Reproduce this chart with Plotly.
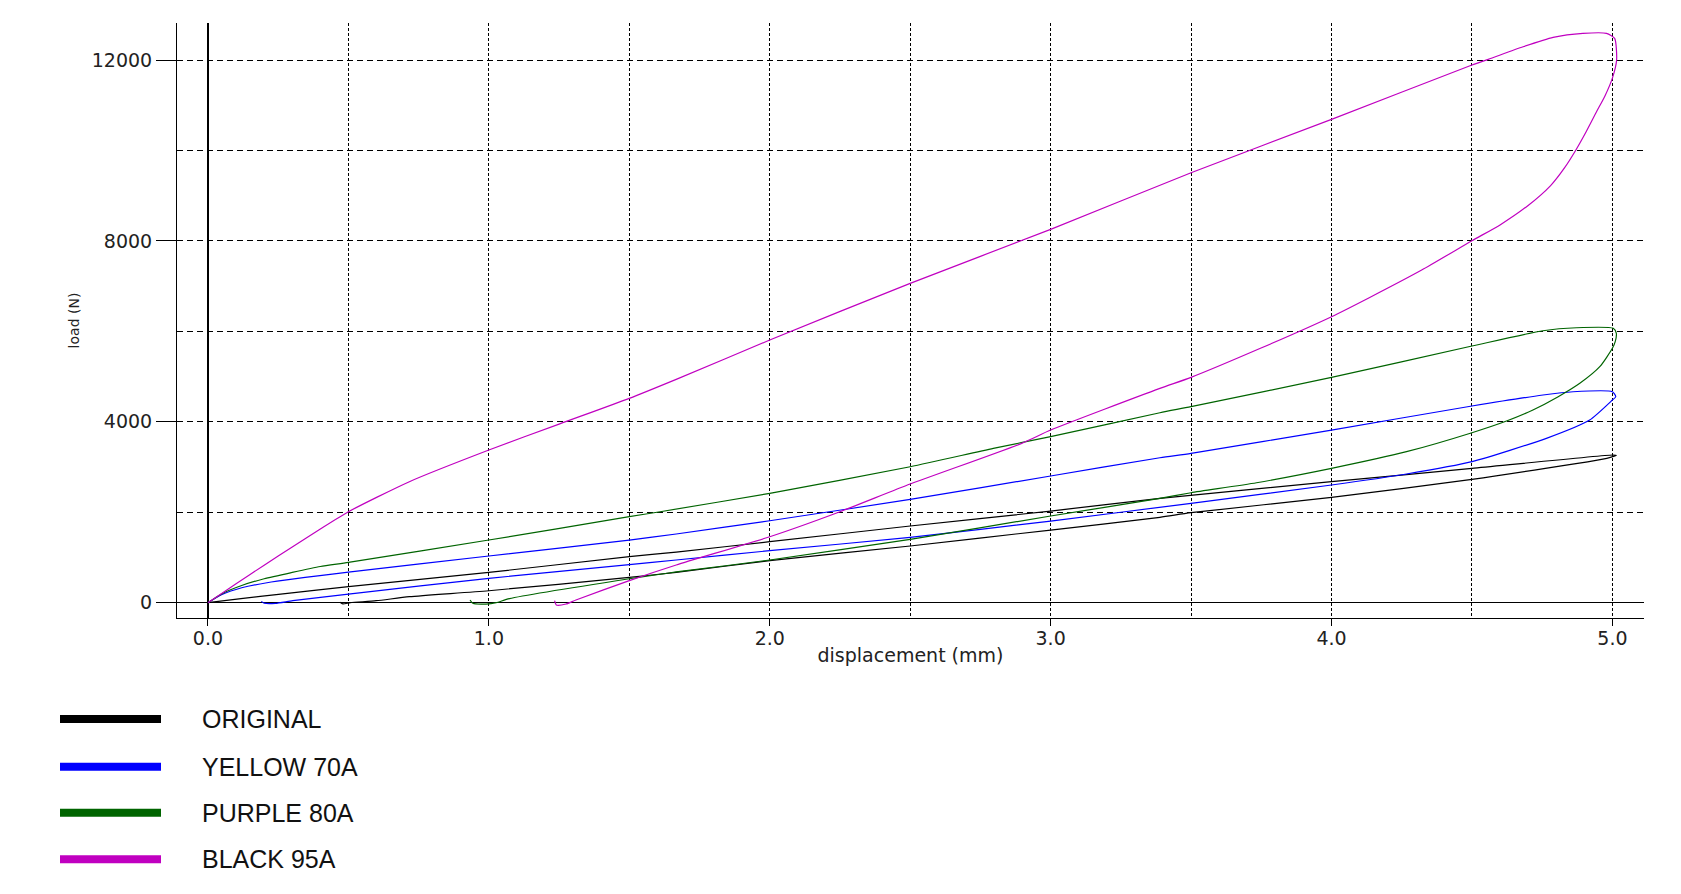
import plotly.graph_objects as go

# ---------------- data ----------------
series_names = ["ORIGINAL", "YELLOW 70A", "PURPLE 80A", "BLACK 95A"]
series_colors = ["#000000", "#0000ff", "#006400", "#c000c0"]

# ORIGINAL: loading branch then unloading branch (displacement mm, load N)
original_x = [0, 0.125, 0.243, 0.5, 1.0, 1.5, 1.667, 2.0, 2.5, 3.0, 3.389, 4.0, 4.5, 5.0, 5.014,
              4.98, 4.5, 4.0, 3.5, 3.389, 3.0, 2.5, 2.0, 1.667, 1.5, 1.0, 0.717, 0.599, 0.507, 0.48, 0.47]
original_y = [0, 97, 180, 354, 670, 1020, 1120, 1349, 1696, 2027, 2308, 2676, 2971, 3266, 3260,
              3193, 2728, 2330, 1990, 1888, 1607, 1254, 929, 672, 560, 265, 133, 44, 0, -25, 10]

# YELLOW 70A
yellow_x = [0, 0.05, 0.12, 0.21, 0.5, 1.0, 1.5, 1.667, 2.0, 2.5, 3.0, 3.389, 3.5, 4.0, 4.5, 4.753, 4.86, 5.0,
            5.012,
            5.0, 4.919, 4.765, 4.5, 4.267, 4.0, 3.5, 3.0, 2.5, 2.0, 1.667, 1.5, 1.0, 0.5, 0.302, 0.24, 0.2, 0.19]
yellow_y = [0, 180, 330, 442, 675, 1033, 1386, 1519, 1813, 2286, 2801, 3206, 3303, 3818, 4349, 4592, 4665, 4665,
            4555,
            4482, 4040, 3635, 3118, 2846, 2602, 2198, 1806, 1446, 1150, 944, 840, 539, 192, 44, -15, -10, 30]

# PURPLE 80A
purple_x = [0, 0.05, 0.12, 0.2, 0.3, 0.4, 0.5, 1.0, 1.5, 1.61, 2.0, 2.5, 2.796, 3.0, 3.389, 3.5, 4.0, 4.5,
            4.753, 4.872, 5.003, 5.014, 5.01,
            5.0, 4.955, 4.884, 4.807, 4.717, 4.623, 4.5, 4.267, 4.0, 3.733, 3.5, 3.389, 3.0, 2.5, 2.0, 1.667,
            1.61, 1.5, 1.073, 1.026, 0.99, 0.943, 0.933]
purple_y = [0, 200, 380, 530, 670, 800, 890, 1386, 1902, 2012, 2418, 3007, 3413, 3671, 4201, 4334, 4983, 5676,
            6014, 6080, 6067, 5956, 5771,
            5625, 5218, 4851, 4555, 4261, 4017, 3759, 3339, 2971, 2653, 2432, 2308, 1917, 1402, 944, 680,
            630, 530, 90, 0, -29, -13, 60]

# BLACK 95A
black_x = [0, 0.1, 0.2, 0.3, 0.4, 0.5, 0.717, 1.0, 1.25, 1.5, 1.667, 2.0, 2.5, 3.0, 3.5, 4.0, 4.5,
           4.558, 4.682, 4.789, 4.895, 4.979, 5.008, 5.015,
           5.0, 4.973, 4.943, 4.907, 4.869, 4.83, 4.78, 4.7, 4.6, 4.5, 4.321, 4.136, 4.0, 3.747, 3.5,
           3.389, 3.0, 2.897, 2.5, 2.25, 2.0, 1.667, 1.5, 1.31, 1.275, 1.24, 1.234]
black_y = [0, 420, 830, 1230, 1630, 2012, 2676, 3376, 3950, 4519, 4939, 5808, 7062, 8256, 9508, 10688, 11889,
           12014, 12293, 12501, 12589, 12589, 12478, 12000,
           11600, 11200, 10850, 10420, 10000, 9620, 9224, 8784, 8354, 8004, 7356, 6750, 6324, 5625, 4983,
           4740, 3818, 3524, 2624, 2012, 1459, 834, 488, 60, -29, -50, 44]

series_x = [original_x, yellow_x, purple_x, black_x]
series_y = [original_y, yellow_y, purple_y, black_y]

x_tick_vals = [0, 1, 2, 3, 4, 5]
x_tick_text = ["0.0", "1.0", "2.0", "3.0", "4.0", "5.0"]
y_tick_vals = [0, 4000, 8000, 12000]
y_tick_text = ["0", "4000", "8000", "12000"]

x_title = "displacement (mm)"
y_title = "load (N)"

# ---------------- layout constants ----------------
W, H = 1681, 894
BODY = 8  # default page margin of the html body
ML, MR, MT, MB = 177, 37, 23, 276
FW, FH = W - BODY, H - BODY
ML_F, MT_F = ML - BODY, MT - BODY
PW, PH = FW - ML_F - MR, FH - MT_F - MB


def px_to_paper_x(px):
    return (px - ML) / PW


def px_to_paper_y(py):
    return (H - MB - py) / PH


fig = go.Figure()
for name, color, xs, ys in zip(series_names, series_colors, series_x, series_y):
    fig.add_trace(go.Scatter(x=xs, y=ys, mode="lines", name=name,
                             line=dict(color=color, width=1.2, shape="spline", smoothing=0.6),
                             showlegend=False))

tick_font = dict(family="DejaVu Sans, Verdana, sans-serif", size=19, color="#222222")
title_font = dict(family="DejaVu Sans, Verdana, sans-serif", size=19, color="#222222")

fig.update_layout(
    width=FW, height=FH,
    margin=dict(l=ML_F, r=MR, t=MT_F, b=MB, pad=0),
    paper_bgcolor="white", plot_bgcolor="white",
    xaxis=dict(
        range=[-0.1103, 5.1125], automargin=False,
        tickmode="array", tickvals=x_tick_vals, ticktext=x_tick_text,
        ticks="outside", ticklen=7, tickcolor="black", tickwidth=1,
        ticklabelstandoff=-4,
        showline=True, linecolor="black", linewidth=1,
        showgrid=True, gridcolor="black", gridwidth=1, griddash="3px,2px",
        zeroline=True, zerolinecolor="black", zerolinewidth=1.5,
        minor=dict(dtick=0.5, tick0=0, showgrid=True, gridcolor="black", gridwidth=1,
                   griddash="3px,2px", ticks=""),
        tickfont=tick_font,
        title=dict(text=x_title, standoff=0, font=title_font),
    ),
    yaxis=dict(
        range=[-338, 12818], automargin=False,
        tickmode="array", tickvals=y_tick_vals, ticktext=y_tick_text,
        ticks="outside", ticklen=20, tickcolor="black", tickwidth=1,
        showline=True, linecolor="black", linewidth=1,
        showgrid=True, gridcolor="black", gridwidth=1, griddash="6px,4px",
        zeroline=True, zerolinecolor="black", zerolinewidth=1,
        minor=dict(dtick=2000, tick0=0, showgrid=True, gridcolor="black", gridwidth=1,
                   griddash="6px,4px", ticks=""),
        tickfont=tick_font,
        title=dict(text=y_title, standoff=8,
                   font=dict(family="DejaVu Sans, Verdana, sans-serif", size=14, color="#222222")),
    ),
)

# ---------------- legend (drawn below the plot) ----------------
legend_rows_py = [719, 766.7, 812.7, 859.3]
for name, color, py in zip(series_names, series_colors, legend_rows_py):
    yp = px_to_paper_y(py)
    fig.add_shape(type="line", xref="paper", yref="paper",
                  x0=px_to_paper_x(60), x1=px_to_paper_x(161), y0=yp, y1=yp,
                  line=dict(color=color, width=8))
    fig.add_annotation(xref="paper", yref="paper", x=px_to_paper_x(200), y=yp,
                       xanchor="left", yanchor="middle", showarrow=False, text=name,
                       font=dict(family="Liberation Sans, Arial, sans-serif", size=25, color="#111111"))

fig.write_html("out.html")
